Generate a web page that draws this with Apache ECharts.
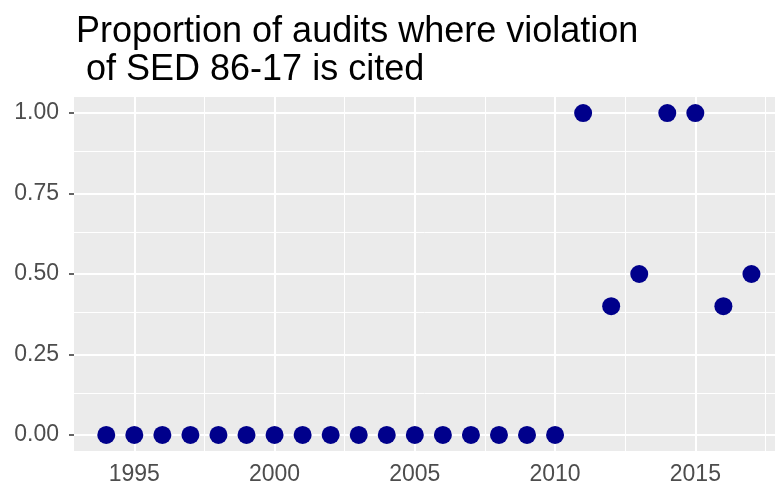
<!DOCTYPE html>
<html>
<head>
<meta charset="utf-8">
<script src="https://cdn.jsdelivr.net/npm/echarts@6/dist/echarts.min.js"></script>
<style>
html,body{margin:0;padding:0;background:#fff;}
#chart{width:775px;height:487px;}
</style>
</head>
<body>
<div id="chart"></div>
<script>
var titleText = "Proportion of audits where violation\n of SED 86-17 is cited";
var years = [1994, 1995, 1996, 1997, 1998, 1999, 2000, 2001, 2002, 2003, 2004, 2005,
             2006, 2007, 2008, 2009, 2010, 2011, 2012, 2013, 2014, 2015, 2016, 2017];
var proportions = [0, 0, 0, 0, 0, 0, 0, 0, 0, 0, 0, 0,
                   0, 0, 0, 0, 0, 1.0, 0.4, 0.5, 1.0, 1.0, 0.4, 0.5];
var xTicks = [1995, 2000, 2005, 2010, 2015];
var xMinor = [1997.5, 2002.5, 2007.5, 2012.5, 2017.5];
var yTicks = [0, 0.25, 0.5, 0.75, 1.0];
var yMinor = [0.125, 0.375, 0.625, 0.875];

var chart = echarts.init(document.getElementById('chart'), null, {renderer: 'canvas'});

var points = years.map(function (y, i) { return [y, proportions[i]]; });

var gridLines = [];
xMinor.forEach(function (v) { gridLines.push({xAxis: v, lineStyle: {width: 1}}); });
yMinor.forEach(function (v) { gridLines.push({yAxis: v, lineStyle: {width: 1}}); });
xTicks.forEach(function (v) { gridLines.push({xAxis: v, lineStyle: {width: 2}}); });
yTicks.forEach(function (v) { gridLines.push({yAxis: v, lineStyle: {width: 2}}); });

var fontFam = '"Liberation Sans", Arial, sans-serif';

chart.setOption({
  animation: false,
  backgroundColor: '#ffffff',
  title: {
    text: titleText,
    left: 71,
    top: 8,
    textStyle: {
      fontFamily: fontFam,
      fontSize: 36,
      fontWeight: 'normal',
      color: '#000000',
      lineHeight: 38
    }
  },
  grid: {
    left: 74,
    right: 0,
    top: 97,
    bottom: 36,
    show: true,
    backgroundColor: '#EBEBEB',
    borderWidth: 0
  },
  xAxis: {
    type: 'value',
    min: 1992.85,
    max: 2017.84,
    axisLine: {show: false},
    splitLine: {show: false},
    axisTick: {
      show: true,
      customValues: xTicks,
      length: 5,
      lineStyle: {color: '#333333', width: 1.5}
    },
    axisLabel: {
      customValues: xTicks,
      margin: 12,
      fontFamily: fontFam,
      fontSize: 23,
      color: '#4D4D4D',
      formatter: function (v) { return String(v); }
    }
  },
  yAxis: {
    type: 'value',
    min: -0.05,
    max: 1.05,
    axisLine: {show: false},
    splitLine: {show: false},
    axisTick: {
      show: true,
      customValues: yTicks,
      length: 5,
      lineStyle: {color: '#333333', width: 1.5}
    },
    axisLabel: {
      customValues: yTicks,
      margin: 15,
      fontFamily: fontFam,
      fontSize: 23,
      color: '#4D4D4D',
      formatter: function (v) { return v.toFixed(2); }
    }
  },
  series: [
    {
      type: 'scatter',
      z: 1,
      silent: true,
      data: [],
      markLine: {
        silent: true,
        symbol: ['none', 'none'],
        label: {show: false},
        animation: false,
        lineStyle: {color: '#FFFFFF', type: 'solid'},
        data: gridLines
      }
    },
    {
      type: 'scatter',
      z: 5,
      symbol: 'circle',
      symbolSize: 18,
      itemStyle: {color: '#00008B', opacity: 1},
      data: points
    }
  ]
});
</script>
</body>
</html>
